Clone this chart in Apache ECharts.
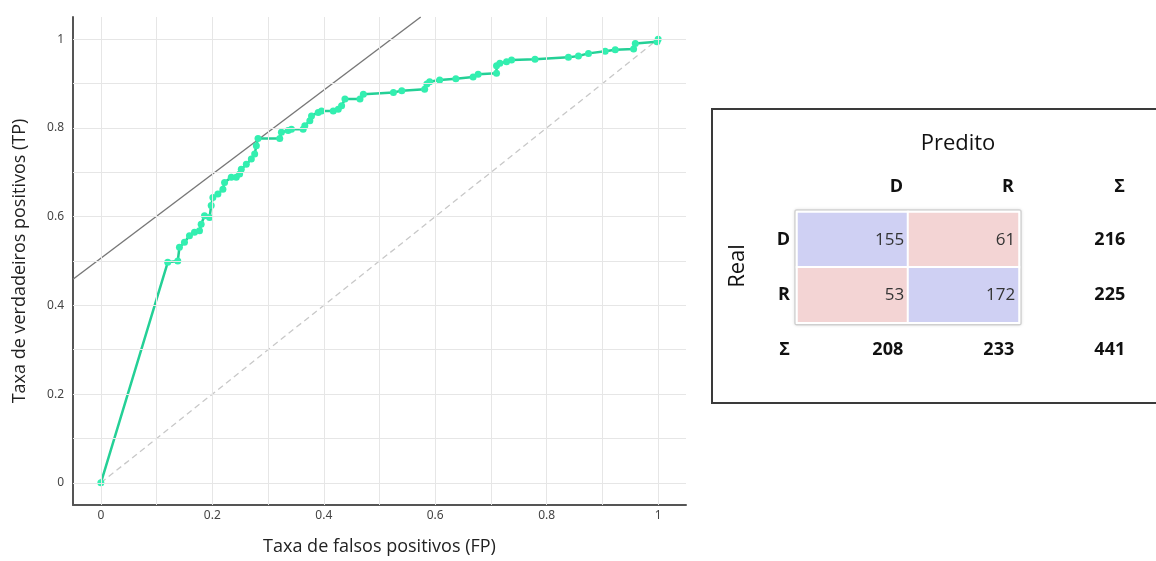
<!DOCTYPE html>
<html lang="pt">
<head>
    <meta charset="UTF-8">
    <title>Curva ROC e matriz de confusão</title>
    <script src="https://cdn.jsdelivr.net/npm/echarts@6/dist/echarts.min.js"></script>
    <style>
        html, body { margin: 0; padding: 0; background: #fff; }
        #charts { width: 1156px; height: 561px; }
    </style>
</head>
<body>
<div id="charts"></div>

<script>
    // curva ROC
    var fpr = [0, 0.12, 0.138, 0.141, 0.15, 0.159, 0.168, 0.177, 0.18, 0.186, 0.195, 0.198, 0.201, 0.21, 0.219, 0.222,
        0.234, 0.243, 0.249, 0.252, 0.261, 0.27, 0.276, 0.279, 0.282, 0.321, 0.324, 0.336, 0.342, 0.363, 0.366, 0.375,
        0.378, 0.39, 0.396, 0.417, 0.426, 0.432, 0.438, 0.465, 0.471, 0.525, 0.54, 0.581, 0.585, 0.59, 0.608, 0.637,
        0.668, 0.677, 0.71, 0.71, 0.716, 0.728, 0.737, 0.779, 0.839, 0.857, 0.875, 0.905, 0.923, 0.956, 0.959, 0.998, 1];
    var tpr = [0, 0.497, 0.5, 0.531, 0.542, 0.557, 0.565, 0.568, 0.583, 0.602, 0.598, 0.625, 0.643, 0.651, 0.662, 0.677,
        0.689, 0.689, 0.696, 0.707, 0.718, 0.73, 0.741, 0.76, 0.776, 0.776, 0.79, 0.794, 0.797, 0.797, 0.805, 0.816,
        0.827, 0.835, 0.838, 0.838, 0.842, 0.85, 0.865, 0.865, 0.876, 0.88, 0.884, 0.887, 0.899, 0.904, 0.908, 0.911,
        0.915, 0.921, 0.923, 0.94, 0.946, 0.949, 0.953, 0.955, 0.959, 0.962, 0.968, 0.973, 0.976, 0.978, 0.99, 0.994, 1];
    // reta tangente (iso-desempenho) e diagonal
    var tangenteX = [-0.05, 0.574];
    var tangenteY = [0.459, 1.05];
    var diagonal = [0, 1];

    var rotulosEixo = [0, 0.2, 0.4, 0.6, 0.8, 1];
    var grade = [0, 0.1, 0.2, 0.3, 0.4, 0.5, 0.6, 0.7, 0.8, 0.9, 1];

    // matriz de confusão
    var classes = ['D', 'R'];
    var cabecalho = ['D', 'R', 'Σ'];
    var matriz = [[155, 61], [53, 172]];

    var chart = document.getElementById('charts');
    var myChart = echarts.init(chart);

    function pares(xs, ys) {
        var out = [];
        for (var i = 0; i < xs.length; i++) out.push([xs[i], ys[i]]);
        return out;
    }

    // células e totais
    var celulas = [];
    var totais = [];
    var somaCol = [0, 0];
    var total = 0;
    for (var r = 0; r < 2; r++) {
        var somaLinha = 0;
        for (var c = 0; c < 2; c++) {
            var v = matriz[r][c];
            celulas.push({
                value: [c, r, v],
                itemStyle: {color: r === c ? '#cfd0f3' : '#f3d4d4'}
            });
            somaLinha += v;
            somaCol[c] += v;
            total += v;
        }
        totais.push([2, r, somaLinha]);
    }
    totais.push([0, 2, somaCol[0]], [1, 2, somaCol[1]], [2, 2, total]);

    var g2 = {left: 797, top: 212, width: 333, height: 166};
    var cw = g2.width / 3, ch = g2.height / 3;

    var nameFont = {fontSize: 18, color: '#222', fontFamily: 'Open Sans'};

    option = {
        animation: false,
        backgroundColor: '#fff',
        grid: [
            {left: 73, right: 470, top: 17, bottom: 53},
            g2
        ],
        xAxis: [{
            type: 'value', gridIndex: 0, min: -0.05, max: 1.05,
            name: 'Taxa de falsos positivos (FP)', nameLocation: 'middle', nameGap: 33,
            nameTextStyle: nameFont,
            axisLine: {onZero: false, lineStyle: {color: '#555', width: 2}},
            axisTick: {show: false},
            splitLine: {show: false},
            axisLabel: {customValues: rotulosEixo, margin: 5, fontSize: 12, color: '#444', fontFamily: 'Noto Sans'}
        }, {
            type: 'category', gridIndex: 1, position: 'top', data: cabecalho,
            axisLine: {show: false}, axisTick: {show: false}, splitLine: {show: false},
            axisLabel: {
                margin: 16,
                formatter: '{a|{value}}',
                rich: {a: {width: cw - 10, align: 'right', fontSize: 18, fontWeight: 'bold', color: '#111', fontFamily: 'Open Sans'}}
            }
        }],
        yAxis: [{
            type: 'value', gridIndex: 0, min: -0.05, max: 1.05,
            name: 'Taxa de verdadeiros positivos (TP)', nameLocation: 'middle', nameGap: 44,
            nameTextStyle: nameFont,
            axisLine: {show: true, onZero: false, lineStyle: {color: '#555', width: 2}},
            axisTick: {show: false},
            splitLine: {show: false},
            axisLabel: {customValues: rotulosEixo, margin: 9, fontSize: 12, color: '#444', fontFamily: 'Noto Sans'}
        }, {
            type: 'category', gridIndex: 1, inverse: true, data: cabecalho,
            axisLine: {show: false}, axisTick: {show: false}, splitLine: {show: false},
            axisLabel: {margin: 7, fontSize: 18, fontWeight: 'bold', color: '#111', fontFamily: 'Open Sans'}
        }],
        series: [
            {
                // grade
                type: 'line', xAxisIndex: 0, yAxisIndex: 0, data: [], z: 1,
                markLine: {
                    silent: true, symbol: 'none', label: {show: false},
                    lineStyle: {color: '#e6e6e6', type: 'solid', width: 1},
                    data: grade.map(function (g) { return {xAxis: g}; })
                        .concat(grade.map(function (g) { return {yAxis: g}; }))
                }
            },
            {
                type: 'line', xAxisIndex: 0, yAxisIndex: 0, z: 2,
                data: pares(diagonal, diagonal), symbol: 'none',
                lineStyle: {color: '#c8c8c8', width: 1.3, type: [6, 4]}
            },
            {
                type: 'line', xAxisIndex: 0, yAxisIndex: 0, z: 3,
                data: pares(tangenteX, tangenteY), symbol: 'none',
                lineStyle: {color: '#777', width: 1.4}
            },
            {
                type: 'line', xAxisIndex: 0, yAxisIndex: 0, z: 4,
                data: pares(fpr, tpr),
                symbol: 'circle', symbolSize: 7, showAllSymbol: true,
                lineStyle: {color: '#24d096', width: 2.5},
                itemStyle: {color: '#33efb0'}
            },
            {
                type: 'heatmap', xAxisIndex: 1, yAxisIndex: 1,
                data: celulas,
                itemStyle: {borderColor: '#fff', borderWidth: 2},
                label: {show: true, position: 'insideRight', distance: 5, fontSize: 17, color: '#333', fontFamily: 'Open Sans',
                    formatter: function (p) { return p.value[2]; }},
                emphasis: {disabled: true}
            },
            {
                type: 'heatmap', xAxisIndex: 1, yAxisIndex: 1,
                data: totais,
                itemStyle: {color: 'rgba(0,0,0,0)'},
                label: {show: true, position: 'insideRight', distance: 5, fontSize: 18, fontWeight: 'bold', color: '#111', fontFamily: 'Open Sans',
                    formatter: function (p) { return p.value[2]; }},
                emphasis: {disabled: true}
            }
        ],
        graphic: [
            {
                type: 'rect', z: -1,
                shape: {x: 712, y: 109, width: 460, height: 294},
                style: {fill: 'none', stroke: '#3a3a3a', lineWidth: 2}
            },
            {
                type: 'rect', z: 0,
                shape: {x: g2.left - 2, y: g2.top - 2, width: 2 * cw + 4, height: 2 * ch + 4, r: 2},
                style: {fill: 'none', stroke: '#cfcfcf', lineWidth: 1.5, shadowBlur: 3, shadowColor: 'rgba(0,0,0,0.15)'}
            },
            {
                type: 'text', x: 958, y: 144,
                style: {text: 'Predito', fontSize: 22, fill: '#111', fontFamily: 'Open Sans', align: 'center', verticalAlign: 'middle'}
            },
            {
                type: 'text', x: 738, y: 266, rotation: Math.PI / 2,
                style: {text: 'Real', fontSize: 22, fill: '#111', fontFamily: 'Open Sans', align: 'center', verticalAlign: 'middle'}
            }
        ]
    };
    myChart.setOption(option, true);
</script>
</body>
</html>
